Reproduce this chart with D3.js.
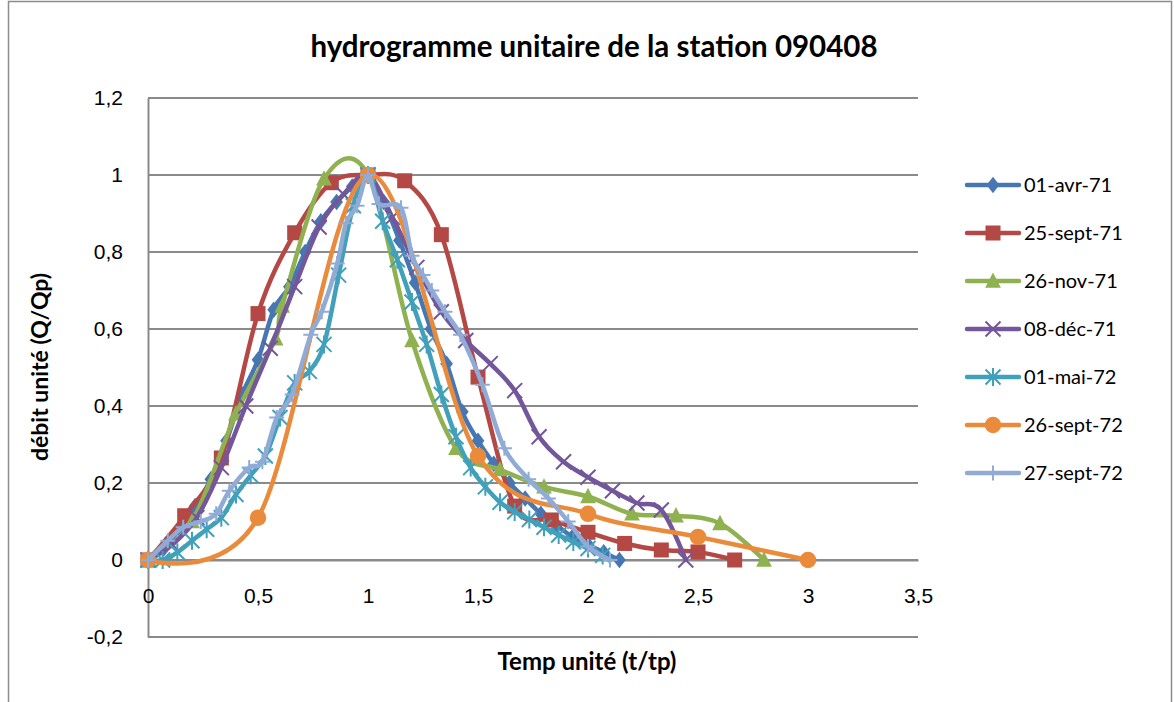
<!DOCTYPE html>
<html>
<head>
<meta charset="utf-8">
<script src="https://cdn.jsdelivr.net/npm/d3@7/dist/d3.min.js"></script>
<style>
  html, body { margin: 0; padding: 0; background: #fff; }
  svg { display: block; font-family: Lato, "Open Sans", "Liberation Sans", sans-serif; }
</style>
</head>
<body>
<svg id="chart" width="1174" height="702"></svg>
<script>
// Unit hydrographs, station 090408 — dimensionless discharge Q/Qp against t/tp
const seriesNames = ["01-avr-71", "25-sept-71", "26-nov-71", "08-déc-71", "01-mai-72", "26-sept-72", "27-sept-72"];
const seriesColors = ["#4677b3", "#b44845", "#8fb150", "#73579a", "#41a0ba", "#ea8b3c", "#90abd6"];
const seriesMarkers = ["diamond", "square", "triangle", "cross", "star", "circle", "plus"];

// 01-avr-71 : time step 1/14
const avr71X = d3.range(31).map(k => k / 14);
const avr71Y = [0, 0.03, 0.08, 0.14, 0.21, 0.31, 0.43, 0.52, 0.65, 0.71, 0.8, 0.88, 0.93, 0.97, 1.0,
                0.93, 0.83, 0.72, 0.6, 0.51, 0.385, 0.31, 0.25, 0.2, 0.16, 0.12, 0.09, 0.06, 0.04, 0.02, 0];
// 25-sept-71 : time step 1/6
const sept71X = d3.range(17).map(k => k / 6);
const sept71Y = [0, 0.115, 0.265, 0.64, 0.85, 0.98, 1.0, 0.985, 0.845, 0.475, 0.14, 0.104, 0.072, 0.043, 0.026, 0.021, 0];
// 26-nov-71
const nov71X = [0, 0.2, 0.4, 0.58, 0.61, 0.8, 1.0, 1.2, 1.4, 1.6, 1.8, 2.0, 2.2, 2.4, 2.6, 2.8];
const nov71Y = [0, 0.1, 0.38, 0.575, 0.66, 0.99, 1.0, 0.57, 0.29, 0.235, 0.19, 0.165, 0.12, 0.115, 0.095, 0];
// 08-déc-71 : time step 1/9
const dec71X = d3.range(23).map(k => k / 9);
const dec71Y = [0, 0.04, 0.11, 0.24, 0.4, 0.55, 0.71, 0.865, 0.95, 1.0, 0.89, 0.76, 0.645, 0.57, 0.51, 0.44,
                0.32, 0.255, 0.215, 0.18, 0.148, 0.13, 0];
// 01-mai-72 : time step 1/15
const mai72X = d3.range(32).map(k => k / 15);
const mai72Y = [0, 0.0, 0.02, 0.05, 0.08, 0.11, 0.17, 0.22, 0.27, 0.37, 0.46, 0.49, 0.56, 0.74, 0.92, 1.0,
                0.88, 0.78, 0.67, 0.56, 0.43, 0.32, 0.24, 0.19, 0.15, 0.125, 0.105, 0.085, 0.065, 0.047, 0.03, 0.012];
// 26-sept-72 : time step 0.5
const sept72aX = [0, 0.5, 1.0, 1.5, 2.0, 2.5, 3.0];
const sept72aY = [0, 0.11, 1.0, 0.27, 0.12, 0.06, 0];
// 27-sept-72
const sept72bX = [0, 0.09, 0.16, 0.24, 0.31, 0.37, 0.46, 0.52, 0.585, 0.655, 0.74, 0.79, 0.86, 0.9, 0.95, 1.0,
                  1.05, 1.15, 1.2, 1.25, 1.29, 1.35, 1.42, 1.52, 1.62, 1.73, 1.82, 1.91, 2.0, 2.1];
const sept72bY = [0, 0.05, 0.085, 0.1, 0.12, 0.18, 0.24, 0.255, 0.37, 0.43, 0.585, 0.645, 0.77, 0.875, 0.92, 1.0,
                  0.925, 0.915, 0.79, 0.74, 0.7, 0.645, 0.585, 0.455, 0.29, 0.21, 0.16, 0.1, 0.035, 0];

const xTicks = [0, 0.5, 1, 1.5, 2, 2.5, 3, 3.5];
const yTicks = [-0.2, 0, 0.2, 0.4, 0.6, 0.8, 1.0, 1.2];

const seriesX = [avr71X, sept71X, nov71X, dec71X, mai72X, sept72aX, sept72bX];
const seriesY = [avr71Y, sept71Y, nov71Y, dec71Y, mai72Y, sept72aY, sept72bY];

const series = seriesNames.map((name, i) => ({
  name, color: seriesColors[i], marker: seriesMarkers[i],
  points: seriesX[i].map((x, j) => ({ x, y: seriesY[i][j] }))
}));

const svg = d3.select("#chart");
// French decimal comma, plain hyphen for negatives
const fmt = v => String(+v.toFixed(1)).replace(".", ",");

// outer chart frame
svg.append("rect").attr("x", 8.5).attr("y", 1.5).attr("width", 1163).attr("height", 760)
  .attr("fill", "none").attr("stroke", "#8c8c8c").attr("stroke-width", 1.5);

const plot = { left: 148, right: 918, top: 98, bottom: 637 };
const x = d3.scaleLinear().domain([0, 3.5]).range([plot.left, plot.right]);
const y = d3.scaleLinear().domain([-0.2, 1.2]).range([plot.bottom, plot.top]);

// horizontal gridlines
svg.append("g").selectAll("line").data(yTicks).join("line")
  .attr("x1", plot.left).attr("x2", plot.right)
  .attr("y1", d => y(d)).attr("y2", d => y(d))
  .attr("stroke", "#8a8a8a").attr("stroke-width", 2);

// y axis (left)
const yAxis = d3.axisLeft(y).tickValues(yTicks).tickSize(0).tickPadding(25).tickFormat(fmt);
const gy = svg.append("g").attr("transform", `translate(${plot.left},0)`).call(yAxis);
gy.select(".domain").attr("stroke", "#8a8a8a").attr("stroke-width", 2);
gy.selectAll("text").attr("font-size", 21).attr("fill", "#000");

// x axis drawn on the zero line
const xAxis = d3.axisBottom(x).tickValues(xTicks).tickSize(0).tickPadding(28).tickFormat(fmt);
const gx = svg.append("g").attr("transform", `translate(0,${y(0)})`).call(xAxis);
gx.select(".domain").attr("stroke", "#8a8a8a").attr("stroke-width", 2);
gx.selectAll("text").attr("font-size", 21).attr("fill", "#000");

// smoothed curves through the measured points
const line = d3.line().x(d => x(d.x)).y(d => y(d.y)).curve(d3.curveCatmullRom.alpha(0));

function drawMarker(g, type, color, size) {
  const h = size / 2;
  if (type === "diamond") {
    g.append("path").attr("d", `M0,${-h * 1.1}L${h * 0.85},0L0,${h * 1.1}L${-h * 0.85},0Z`).attr("fill", color);
  } else if (type === "square") {
    g.append("rect").attr("x", -h).attr("y", -h).attr("width", size).attr("height", size).attr("fill", color);
  } else if (type === "triangle") {
    g.append("path").attr("d", `M0,${-h * 1.15}L${h * 1.05},${h * 0.9}L${-h * 1.05},${h * 0.9}Z`).attr("fill", color);
  } else if (type === "circle") {
    g.append("circle").attr("r", h * 1.1).attr("fill", color);
  } else if (type === "cross") {
    g.append("path").attr("d", `M${-h},${-h}L${h},${h}M${-h},${h}L${h},${-h}`)
      .attr("stroke", color).attr("stroke-width", 2);
  } else if (type === "star") {
    g.append("path").attr("d", `M${-h},${-h}L${h},${h}M${-h},${h}L${h},${-h}M0,${-h * 1.2}L0,${h * 1.2}`)
      .attr("stroke", color).attr("stroke-width", 2);
  } else if (type === "plus") {
    g.append("path").attr("d", `M${-h},0L${h},0M0,${-h}L0,${h}`)
      .attr("stroke", color).attr("stroke-width", 2);
  }
}

const gSeries = svg.append("g");
series.forEach(s => {
  const g = gSeries.append("g");
  g.append("path").datum(s.points).attr("d", line)
    .attr("fill", "none").attr("stroke", s.color).attr("stroke-width", 4.5)
    .attr("stroke-linejoin", "round").attr("stroke-linecap", "round");
  s.points.forEach(p => {
    const m = g.append("g").attr("transform", `translate(${x(p.x)},${y(p.y)})`);
    drawMarker(m, s.marker, s.color, 15);
  });
});

// title
svg.append("text").attr("x", 594).attr("y", 57).attr("text-anchor", "middle")
  .attr("font-size", 29.5).attr("font-weight", "bold").text("hydrogramme unitaire de la station 090408");

// axis titles
svg.append("text").attr("x", 587).attr("y", 670).attr("text-anchor", "middle")
  .attr("font-size", 24).attr("font-weight", "bold").text("Temp unité (t/tp)");
svg.append("text").attr("transform", "translate(48,367) rotate(-90)").attr("text-anchor", "middle")
  .attr("font-size", 23).attr("font-weight", "bold").text("débit unité (Q/Qp)");

// legend
const legend = svg.append("g");
series.forEach((s, i) => {
  const ly = 185 + i * 48;
  const g = legend.append("g").attr("transform", `translate(0,${ly})`);
  g.append("line").attr("x1", 967).attr("x2", 1019).attr("y1", 0).attr("y2", 0)
    .attr("stroke", s.color).attr("stroke-width", 4.5).attr("stroke-linecap", "round");
  drawMarker(g.append("g").attr("transform", "translate(993,0)"), s.marker, s.color, 15);
  g.append("text").attr("x", 1024).attr("y", 7).attr("font-size", 20).text(s.name);
});
</script>
</body>
</html>
